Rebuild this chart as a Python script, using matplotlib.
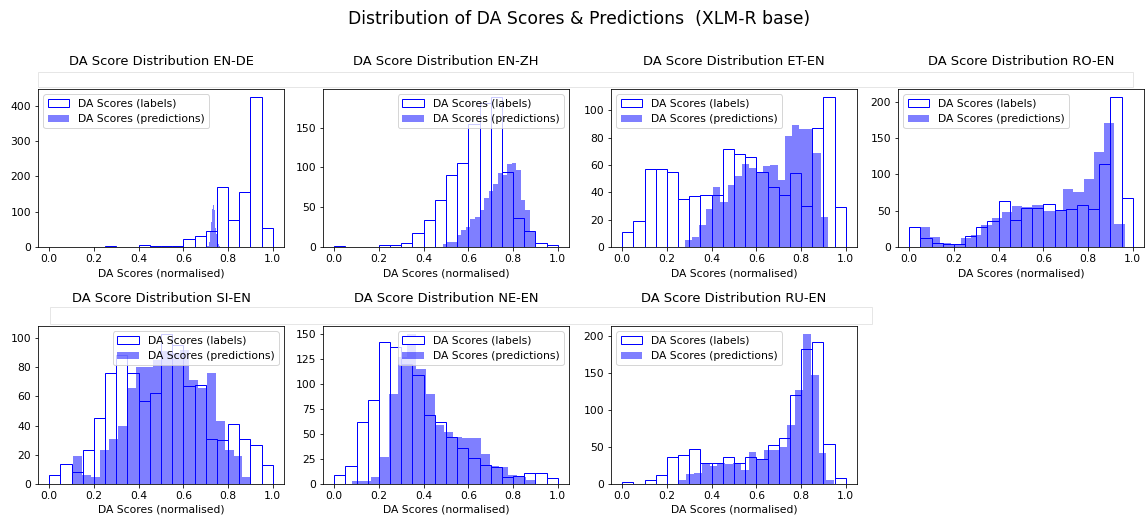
import numpy as np
import matplotlib
matplotlib.use("Agg")
import matplotlib.pyplot as plt
from matplotlib.patches import Rectangle

# language pairs, in the order they are plotted
pairs = ["EN-DE", "EN-ZH", "ET-EN", "RO-EN", "SI-EN", "NE-EN", "RU-EN"]

# label histograms: 20 bins of width 0.05 over [0, 1]
label_counts = {
    "EN-DE": [0, 0, 0, 0, 0, 2, 0, 0, 5, 2, 2, 2, 22, 32, 46, 169, 77, 156, 426, 55],
    "EN-ZH": [1, 0, 0, 0, 2, 2, 5, 18, 34, 59, 91, 105, 155, 181, 189, 94, 37, 20, 5, 2],
    "ET-EN": [11, 19, 57, 57, 55, 35, 37, 38, 38, 72, 68, 66, 55, 44, 38, 54, 30, 87, 110, 29],
    "RO-EN": [27, 13, 6, 4, 4, 15, 27, 36, 63, 37, 54, 54, 59, 51, 52, 58, 52, 114, 207, 67],
    "SI-EN": [6, 14, 8, 23, 45, 76, 88, 76, 57, 62, 103, 95, 67, 68, 31, 30, 41, 31, 27, 13],
    "NE-EN": [9, 18, 62, 84, 142, 137, 120, 109, 69, 62, 47, 36, 26, 19, 17, 7, 8, 11, 11, 6],
    "RU-EN": [3, 0, 6, 12, 37, 39, 47, 28, 28, 37, 28, 37, 34, 53, 63, 120, 183, 192, 54, 8],
}

# prediction histograms: 20 bins between the min and max prediction
pred_range = {
    "EN-DE": (0.707, 0.762),
    "EN-ZH": (0.486, 0.896),
    "ET-EN": (0.279, 0.919),
    "RO-EN": (0.048, 0.963),
    "SI-EN": (0.108, 0.904),
    "NE-EN": (0.081, 0.900),
    "RU-EN": (0.252, 0.948),
}
pred_counts = {
    "EN-DE": [2, 4, 8, 15, 30, 45, 70, 105, 108, 148, 120, 105, 80, 55, 38, 25, 18, 12, 8, 4],
    "EN-ZH": [4, 6, 6, 15, 21, 25, 35, 38, 47, 62, 70, 79, 93, 90, 104, 105, 97, 59, 47, 20],
    "ET-EN": [5, 7, 16, 28, 44, 33, 45, 52, 61, 58, 54, 59, 60, 49, 81, 89, 86, 86, 69, 22],
    "RO-EN": [27, 14, 5, 3, 12, 16, 30, 40, 48, 57, 55, 58, 50, 50, 80, 75, 93, 130, 170, 31],
    "SI-EN": [19, 6, 5, 23, 31, 40, 66, 80, 80, 85, 91, 90, 92, 71, 66, 76, 43, 23, 19, 5],
    "NE-EN": [3, 3, 7, 27, 90, 127, 150, 115, 90, 59, 52, 47, 46, 46, 30, 18, 17, 9, 7, 4],
    "RU-EN": [6, 14, 15, 28, 25, 28, 27, 28, 19, 44, 34, 46, 46, 50, 80, 128, 204, 148, 42, 6],
}

legend_loc = {"EN-DE": "upper left", "EN-ZH": "upper right", "ET-EN": "upper left",
              "RO-EN": "upper left", "SI-EN": "upper right", "NE-EN": "upper right",
              "RU-EN": "upper left"}

W, H, DPI = 1145, 519, 72
fig = plt.figure(figsize=(W / DPI, H / DPI), dpi=DPI)

# faint boxes above each row (present in the original screenshot)
for x0, x1, y0, y1 in [(38, 1133, 72, 87), (50, 872, 307, 324)]:
    fig.patches.append(Rectangle((x0 / W, 1 - y1 / H), (x1 - x0) / W, (y1 - y0) / H,
                                 transform=fig.transFigure, fill=False,
                                 edgecolor="#e6e6e6", linewidth=1, zorder=0))

col_left = [38, 323, 611, 898]
row_top = [89, 326]
ax_w, ax_h = 246, 158
fs = 10.8

label_edges = np.linspace(0, 1, 21)
for i, pair in enumerate(pairs):
    r, c = divmod(i, 4)
    ax = fig.add_axes([col_left[c] / W, 1 - (row_top[r] + ax_h) / H, ax_w / W, ax_h / H])

    lc = np.array(label_counts[pair])
    ax.hist(label_edges[:-1] + 0.025, bins=label_edges, weights=lc,
            facecolor="white", edgecolor="blue", linewidth=1,
            label="DA Scores (labels)")

    lo, hi = pred_range[pair]
    pe = np.linspace(lo, hi, 21)
    pc = np.array(pred_counts[pair])
    ax.hist((pe[:-1] + pe[1:]) / 2, bins=pe, weights=pc,
            color="blue", alpha=0.5, label="DA Scores (predictions)")

    ax.set_xticks(np.arange(0, 1.01, 0.2))
    ax.set_xlim(-0.05, 1.05)
    ax.set_title(f"DA Score Distribution {pair}", fontsize=13, pad=24)
    ax.set_xlabel("DA Scores (normalised)", fontsize=fs)
    ax.tick_params(labelsize=fs)
    ax.legend(loc=legend_loc[pair], fontsize=fs)

fig.suptitle("Distribution of DA Scores & Predictions  (XLM-R base)", fontsize=17.3,
             x=0.506, y=0.98)

fig.savefig("out.png", dpi=DPI)
